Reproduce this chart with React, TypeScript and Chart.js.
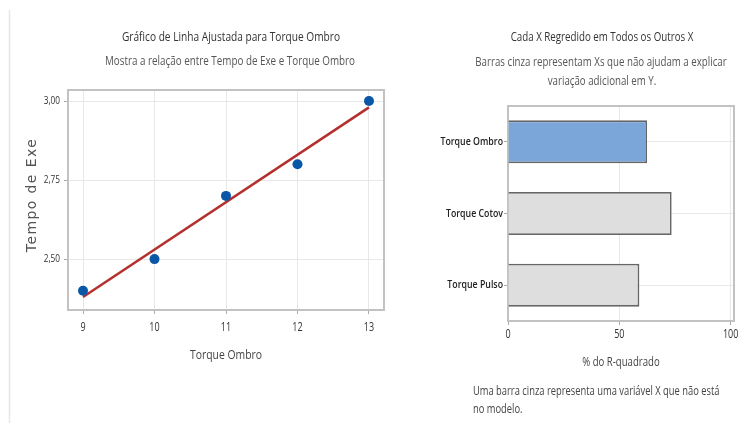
import React, { useEffect, useRef } from "react";
import { Chart, registerables } from "chart.js";

Chart.register(...registerables);

// ---------- Data ----------
const torqueOmbro = [9, 10, 11, 12, 13];
const tempoExe = [2.4, 2.5, 2.7, 2.8, 3.0];
const fitX = [9, 13];
const fitY = [2.38, 2.98];
const xTickValues = [9, 10, 11, 12, 13];
const yTickValues = [2.5, 2.75, 3.0];

const categories = ["Torque Ombro", "Torque Cotov", "Torque Pulso"];
const rSquared = [62.5, 73.5, 59];
const inModel = [true, false, false];
const rTickValues = [0, 50, 100];

// ---------- Styles ----------
const FONT = "'Open Sans', 'Noto Sans', sans-serif";
const GRID = "#e8e8e8";
const FRAME = "#c2c2c2";
const SX = 0.8;

function drawText(
  ctx: CanvasRenderingContext2D,
  text: string,
  x: number,
  y: number,
  font: string,
  color: string,
  align: CanvasTextAlign = "center",
  sx: number = SX
) {
  ctx.save();
  ctx.font = font;
  ctx.fillStyle = color;
  ctx.textAlign = align;
  ctx.textBaseline = "middle";
  ctx.translate(x, y);
  ctx.scale(sx, 1);
  ctx.fillText(text, 0, 0);
  ctx.restore();
}

type TextItem = {
  text: string;
  x: number;
  y: number;
  font: string;
  color: string;
  align?: CanvasTextAlign;
  sx?: number;
};

type TickSpec = {
  axis: string;
  pos: number;
  font: string;
  color: string;
  sx: number;
};

function textPlugin(id: string, items: TextItem[], ticks: TickSpec[], extra?: (ctx: CanvasRenderingContext2D) => void) {
  return {
    id,
    afterDraw(chart: any) {
      const ctx: CanvasRenderingContext2D = chart.ctx;
      if (extra) extra(ctx);
      for (const it of items) drawText(ctx, it.text, it.x, it.y, it.font, it.color, it.align || "center", it.sx ?? SX);
      for (const t of ticks) {
        const scale = chart.scales[t.axis];
        scale.ticks.forEach((tk: any, i: number) => {
          const p = scale.getPixelForTick(i);
          const label = String(tk.label);
          if (scale.isHorizontal()) drawText(ctx, label, p, t.pos, t.font, t.color, "center", t.sx);
          else drawText(ctx, label, t.pos, p, t.font, t.color, "right", t.sx);
        });
      }
    },
  };
}

const framePlugin = {
  id: "frame",
  beforeDatasetsDraw(chart: any) {
    const { ctx, chartArea } = chart;
    ctx.save();
    ctx.strokeStyle = FRAME;
    ctx.lineWidth = 2;
    ctx.strokeRect(chartArea.left, chartArea.top, chartArea.right - chartArea.left, chartArea.bottom - chartArea.top);
    ctx.restore();
  },
};

function LeftChart() {
  const ref = useRef<HTMLCanvasElement | null>(null);
  useEffect(() => {
    if (!ref.current) return;
    const texts = textPlugin(
      "leftTexts",
      [
        { text: "Gráfico de Linha Ajustada para Torque Ombro", x: 231, y: 37, font: `13px ${FONT}`, color: "#333", sx: 0.78 },
        { text: "Mostra a relação entre Tempo de Exe e Torque Ombro", x: 230, y: 62, font: `12px ${FONT}`, color: "#555", sx: 0.82 },
        { text: "Torque Ombro", x: 226, y: 355, font: `13px ${FONT}`, color: "#444", sx: 0.8 },
      ],
      [
        { axis: "x", pos: 328, font: `12px ${FONT}`, color: "#333", sx: 0.75 },
        { axis: "y", pos: 60, font: `11px ${FONT}`, color: "#333", sx: 0.75 },
      ],
      (ctx) => {
        ctx.save();
        ctx.strokeStyle = "#e6e6e6";
        ctx.lineWidth = 1.5;
        ctx.beginPath();
        ctx.moveTo(9.5, 10);
        ctx.lineTo(9.5, 423);
        ctx.stroke();
        ctx.translate(32, 195);
        ctx.rotate(-Math.PI / 2);
        ctx.font = `14px 'DejaVu Sans', sans-serif`;
        ctx.fillStyle = "#555";
        ctx.textAlign = "center";
        ctx.textBaseline = "middle";
        (ctx as any).letterSpacing = "1.4px";
        ctx.fillText("Tempo de Exe", 0, 0);
        ctx.restore();
      }
    );
    const chart = new Chart(ref.current, {
      type: "scatter",
      data: {
        datasets: [
          {
            type: "line",
            data: fitX.map((x, i) => ({ x, y: fitY[i] })),
            borderColor: "#b3302e",
            borderWidth: 2.5,
            pointRadius: 0,
            fill: false,
            order: 2,
          } as any,
          {
            data: torqueOmbro.map((x, i) => ({ x, y: tempoExe[i] })),
            backgroundColor: "#0a57a8",
            borderColor: "#0a57a8",
            borderWidth: 0,
            pointRadius: 5,
            order: 1,
          },
        ],
      },
      options: {
        responsive: false,
        animation: false,
        layout: { padding: { top: 90, right: 6, bottom: 0, left: 0 } },
        plugins: { legend: { display: false }, tooltip: { enabled: false }, title: { display: false } },
        scales: {
          x: {
            type: "linear",
            min: 8.79,
            max: 13.21,
            afterBuildTicks: (s: any) => { s.ticks = xTickValues.map((v) => ({ value: v })); },
            afterFit: (s: any) => { s.height = 113; },
            grid: { color: GRID, tickColor: "#aaa", tickLength: 4 },
            border: { display: false },
            ticks: { display: false, callback: (v: any) => String(v) },
          },
          y: {
            type: "linear",
            min: 2.339,
            max: 3.035,
            afterBuildTicks: (s: any) => { s.ticks = yTickValues.map((v) => ({ value: v })); },
            afterFit: (s: any) => { s.width = 68; },
            grid: { color: GRID, tickColor: "#aaa", tickLength: 4 },
            border: { display: false },
            ticks: { display: false, callback: (v: any) => Number(v).toFixed(2).replace(".", ",") },
          },
        },
      },
      plugins: [framePlugin, texts],
    });
    return () => chart.destroy();
  }, []);
  return <canvas ref={ref} width={390} height={423} style={{ position: "absolute", left: 0, top: 0, width: 390, height: 423 }} />;
}

function RightChart() {
  const ref = useRef<HTMLCanvasElement | null>(null);
  useEffect(() => {
    if (!ref.current) return;
    const texts = textPlugin(
      "rightTexts",
      [
        { text: "Cada X Regredido em Todos os Outros X", x: 212, y: 37, font: `13px ${FONT}`, color: "#333", sx: 0.75 },
        { text: "Barras cinza representam Xs que não ajudam a explicar", x: 211, y: 63, font: `12px ${FONT}`, color: "#555", sx: 0.81 },
        { text: "variação adicional em Y.", x: 212, y: 82, font: `12px ${FONT}`, color: "#555", sx: 0.81 },
        { text: "% do R-quadrado", x: 231, y: 363, font: `12px ${FONT}`, color: "#444", sx: 0.8 },
        { text: "Uma barra cinza representa uma variável X que não está", x: 83, y: 392, font: `12px ${FONT}`, color: "#444", align: "left", sx: 0.78 },
        { text: "no modelo.", x: 83, y: 410, font: `12px ${FONT}`, color: "#444", align: "left", sx: 0.78 },
      ],
      [
        { axis: "x", pos: 335, font: `12px ${FONT}`, color: "#333", sx: 0.75 },
        { axis: "y", pos: 113, font: `600 11px ${FONT}`, color: "#222", sx: 0.8 },
      ]
    );
    const chart = new Chart(ref.current, {
      type: "bar",
      data: {
        labels: categories,
        datasets: [
          {
            data: rSquared,
            backgroundColor: inModel.map((m) => (m ? "#7ba6d9" : "#dedede")),
            borderColor: "#666666",
            borderWidth: 1.8,
            borderSkipped: "start",
            barPercentage: 0.6,
            categoryPercentage: 1,
          },
        ],
      },
      options: {
        indexAxis: "y",
        responsive: false,
        animation: false,
        layout: { padding: { top: 106, right: 6, bottom: 0, left: 0 } },
        plugins: { legend: { display: false }, tooltip: { enabled: false }, title: { display: false } },
        scales: {
          x: {
            type: "linear",
            min: 0,
            max: 101.5,
            afterBuildTicks: (s: any) => { s.ticks = rTickValues.map((v) => ({ value: v })); },
            afterFit: (s: any) => { s.height = 102; },
            grid: { color: GRID, tickColor: "#aaa", tickLength: 4 },
            border: { display: false },
            ticks: { display: false },
          },
          y: {
            type: "category",
            afterFit: (s: any) => { s.width = 118; },
            grid: { color: GRID, tickColor: "#aaa", tickLength: 4, offset: false },
            border: { display: false },
            ticks: { display: false },
          },
        },
      },
      plugins: [framePlugin, texts],
    });
    return () => chart.destroy();
  }, []);
  return <canvas ref={ref} width={350} height={423} style={{ position: "absolute", left: 390, top: 0, width: 350, height: 423 }} />;
}

export default function App() {
  return (
    <div style={{ position: "absolute", left: 0, top: 0, width: 740, height: 423, background: "#fff", overflow: "hidden" }}>
      <LeftChart />
      <RightChart />
    </div>
  );
}
